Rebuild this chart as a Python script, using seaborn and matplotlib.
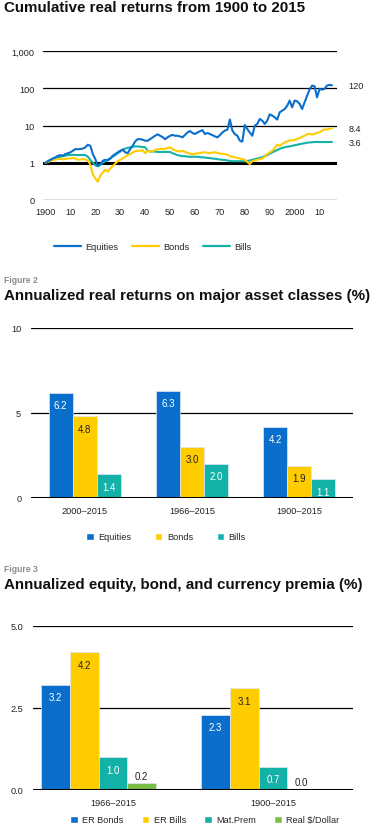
import matplotlib
matplotlib.use("Agg")
import matplotlib.pyplot as plt
from matplotlib.lines import Line2D
from matplotlib.patches import Patch
from matplotlib.ticker import NullLocator
import pandas as pd
import seaborn as sns

# ---- data -------------------------------------------------------------
years = list(range(1900, 2016))

equities = [
    1.0, 1.1, 1.2, 1.3, 1.4, 1.54, 1.6, 1.55, 1.71, 1.8,
    1.9, 2.1, 2.33, 2.3, 2.35, 2.4, 2.6, 3.05, 2.86, 1.71,
    1.25, 0.83, 0.92, 1.13, 1.2, 1.15, 1.31, 1.54, 1.71, 1.9,
    2.1, 2.24, 1.9, 1.82, 2.33, 2.86, 3.75, 4.3, 4.3, 4.16,
    3.9, 3.9, 4.3, 4.8, 5.3, 5.8, 5.3, 4.9, 4.3, 4.8,
    5.3, 5.6, 5.3, 5.3, 5.1, 4.8, 5.6, 6.5, 7.1, 6.3,
    5.9, 6.5, 7.0, 7.5, 5.9, 6.3, 5.9, 5.5, 5.1, 4.8,
    5.5, 6.5, 7.3, 7.7, 14.5, 7.3, 5.9, 5.3, 3.9, 3.7,
    10.3, 8.0, 6.5, 5.3, 9.9, 11.0, 15.0, 13.5, 11.0, 13.5,
    20.0, 18.4, 16.6, 14.4, 22.6, 25.0, 27.7, 34.0, 46.6, 30.8,
    46.6, 44.6, 38.0, 27.7, 42.0, 63.0, 92.0, 118.0, 113.0, 57.0,
    96.0, 92.0, 96.0, 118.0, 123.0, 120.0,
]

bonds = [
    1.0, 1.05, 1.12, 1.18, 1.22, 1.25, 1.28, 1.24, 1.27, 1.3,
    1.3, 1.35, 1.3, 1.2, 1.22, 1.25, 1.22, 1.15, 0.9, 0.48,
    0.38, 0.31, 0.45, 0.55, 0.65, 0.58, 0.7, 0.82, 0.95, 1.1,
    1.2, 1.3, 1.45, 1.6, 1.7, 1.9, 2.05, 2.1, 2.1, 2.15,
    1.8, 2.1, 2.0, 2.05, 2.2, 2.3, 2.35, 2.35, 2.35, 2.5,
    2.6, 2.3, 2.15, 2.05, 2.0, 2.1, 1.95, 1.85, 1.75, 1.7,
    1.75, 1.8, 1.8, 1.9, 1.9, 1.85, 1.8, 1.9, 1.9, 1.85,
    1.75, 1.75, 1.7, 1.65, 1.5, 1.45, 1.4, 1.35, 1.3, 1.25,
    1.2, 1.05, 0.92, 1.1, 1.15, 1.2, 1.25, 1.3, 1.45, 1.7,
    1.9, 2.1, 2.5, 3.1, 2.8, 3.2, 3.5, 3.7, 4.0, 4.0,
    4.1, 4.3, 4.6, 5.0, 5.3, 5.8, 6.0, 5.7, 6.0, 6.3,
    6.6, 7.3, 7.9, 7.7, 8.2, 8.4,
]

bills = [
    1.0, 1.1, 1.2, 1.28, 1.33, 1.4, 1.45, 1.5, 1.55, 1.6,
    1.62, 1.63, 1.62, 1.6, 1.62, 1.62, 1.6, 1.45, 1.2, 1.0,
    0.85, 0.8, 0.88, 1.0, 1.1, 1.2, 1.3, 1.45, 1.6, 1.8,
    2.0, 2.25, 2.4, 2.5, 2.6, 2.7, 2.75, 2.75, 2.7, 2.65,
    2.6, 2.1, 2.0, 2.0, 2.0, 1.95, 1.95, 1.95, 1.95, 1.95,
    1.95, 1.8, 1.7, 1.6, 1.55, 1.5, 1.5, 1.45, 1.45, 1.45,
    1.45, 1.45, 1.42, 1.4, 1.38, 1.35, 1.33, 1.3, 1.28, 1.25,
    1.22, 1.2, 1.18, 1.15, 1.12, 1.1, 1.1, 1.1, 1.1, 1.1,
    1.1, 1.12, 1.15, 1.2, 1.25, 1.3, 1.35, 1.4, 1.5, 1.6,
    1.75, 1.9, 2.05, 2.2, 2.35, 2.5, 2.6, 2.7, 2.75, 2.85,
    2.95, 3.05, 3.15, 3.25, 3.35, 3.45, 3.5, 3.55, 3.6, 3.6,
    3.6, 3.6, 3.6, 3.6, 3.6, 3.6,
]

end_labels = ["120", "8.4", "3.6"]
cum_ticks = [0.1, 1, 10, 100, 1000]
cum_ticklabels = ["0", "1", "10", "100", "1,000"]
decade_ticks = list(range(1900, 2011, 10))
decade_labels = ["1900", "10", "20", "30", "40", "50", "60", "70", "80", "90", "2000", "10"]

fig2_periods = ["2000\u20132015", "1966\u20132015", "1900\u20132015"]
fig2_equities = [6.2, 6.3, 4.2]
fig2_bonds = [4.8, 3.0, 1.9]
fig2_bills = [1.4, 2.0, 1.1]

fig3_periods = ["1966\u20132015", "1900\u20132015"]
fig3_er_bonds = [3.2, 2.3]
fig3_er_bills = [4.2, 3.1]
fig3_maturity = [1.0, 0.7]
fig3_real_fx = [0.2, 0.0]
fig3_series = ["ER Bonds", "ER Bills", "Mat.Prem", "Real $/Dollar"]

BLUE = "#0A6FCC"
YELLOW = "#FFCC00"
TEAL = "#14B1A8"
GREEN = "#7BBE45"

# ---- style ------------------------------------------------------------
sns.set_theme(style="white")
plt.rcParams["font.family"] = ["Liberation Sans", "DejaVu Sans"]
plt.rcParams["axes.linewidth"] = 0

W, H = 374, 828
fig = plt.figure(figsize=(W / 100, H / 100), dpi=100)


def px_axes(left, top, right, bottom):
    return fig.add_axes([left / W, 1 - bottom / H, (right - left) / W, (bottom - top) / H])


def fig_text(x, y, s, **kw):
    fig.text(x / W, 1 - y / H, s, **kw)


TITLE = dict(fontsize=10.9, fontweight="bold", color="#111111", va="center")
FIGLBL = dict(fontsize=6.2, fontweight="bold", color="#8a8a8a", va="center")
TICK = 6.6

# ---- figure 1: cumulative returns --------------------------------------
fig_text(4, 8, "Cumulative real returns from 1900 to 2015", **TITLE)

ax1 = px_axes(43, 52, 337, 201)
cum = pd.DataFrame({
    "year": years * 3,
    "value": equities + bonds + bills,
    "series": ["Equities"] * len(years) + ["Bonds"] * len(years) + ["Bills"] * len(years),
})
for y in [0.1, 10, 100, 1000]:
    ax1.axhline(y, color="black", lw=0.9, zorder=0)
ax1.axhline(1, color="black", lw=2.2, zorder=0)
sns.lineplot(data=cum, x="year", y="value", hue="series", estimator=None,
             palette={"Equities": BLUE, "Bonds": YELLOW, "Bills": TEAL},
             hue_order=["Bills", "Bonds", "Equities"], linewidth=1.5,
             legend=False, ax=ax1)
ax1.set_yscale("log")
ax1.set_ylim(0.1, 1000)
ax1.set_xlim(1899, 2017)
ax1.set_yticks(cum_ticks)
ax1.set_yticklabels(cum_ticklabels)
ax1.yaxis.set_minor_locator(NullLocator())
ax1.set_xticks(decade_ticks)
ax1.set_xticklabels(decade_labels)
ax1.tick_params(length=0, labelsize=TICK, colors="#222222")
ax1.tick_params(axis="y", pad=6)
ax1.tick_params(axis="x", pad=5)
ax1.set_xlabel("")
ax1.set_ylabel("")
for lbl, series in zip(end_labels, [equities, bonds, bills]):
    ax1.text(2021.5, series[-1], lbl, fontsize=TICK, color="#222222",
             va="center", ha="left", clip_on=False)

fig.legend(
    handles=[Line2D([], [], color=c, lw=1.6) for c in (BLUE, YELLOW, TEAL)],
    labels=["Equities", "Bonds", "Bills"],
    loc="center", bbox_to_anchor=(153 / W, 1 - 248 / H), ncol=3, frameon=False,
    fontsize=TICK, handlelength=2.9, handletextpad=0.5, columnspacing=1.5,
)


# ---- bar panels ---------------------------------------------------------
def bar_panel(ax, df, order, hue_order, palette, width, ymax, ticks, ticklabels, label_styles):
    for t in ticks[1:]:
        ax.axhline(t, color="black", lw=0.9, zorder=0)
    sns.barplot(data=df, x="period", y="value", hue="series", order=order,
                hue_order=hue_order, palette=palette, width=width, dodge=True,
                saturation=1, edgecolor="#dfe8f0", linewidth=0.5, legend=False,
                ax=ax, errorbar=None)
    ax.axhline(0, color="black", lw=2.2, zorder=5)
    ax.set_ylim(0, ymax)
    ax.set_yticks(ticks)
    ax.set_yticklabels(ticklabels)
    ax.tick_params(length=0, labelsize=TICK, colors="#222222")
    ax.tick_params(axis="y", pad=7)
    ax.tick_params(axis="x", pad=6)
    ax.set_xlabel("")
    ax.set_ylabel("")
    for cont, (color, pad) in zip(ax.containers, label_styles):
        ax.bar_label(cont, fmt="%.1f", padding=pad, color=color, fontsize=7)


fig_text(4, 281, "Figure 2", **FIGLBL)
fig_text(4, 296, "Annualized real returns on major asset classes (%)", **TITLE)
ax2 = px_axes(31, 329, 353, 499)
fig2 = pd.DataFrame({
    "period": fig2_periods * 3,
    "value": fig2_equities + fig2_bonds + fig2_bills,
    "series": ["Equities"] * 3 + ["Bonds"] * 3 + ["Bills"] * 3,
})
bar_panel(ax2, fig2, fig2_periods, ["Equities", "Bonds", "Bills"],
          {"Equities": BLUE, "Bonds": YELLOW, "Bills": TEAL}, 0.67, 10,
          [0, 5, 10], ["0", "5", "10"],
          [("white", -12.5), ("#222222", -12.5), ("white", -12.5)])
fig.legend(
    handles=[Patch(facecolor=c) for c in (BLUE, YELLOW, TEAL)],
    labels=["Equities", "Bonds", "Bills"],
    loc="center", bbox_to_anchor=(166 / W, 1 - 538 / H), ncol=3, frameon=False,
    fontsize=TICK, handlelength=0.8, handleheight=0.8, handletextpad=0.5,
    columnspacing=2.6,
)

fig_text(4, 570, "Figure 3", **FIGLBL)
fig_text(4, 585, "Annualized equity, bond, and currency premia (%)", **TITLE)
ax3 = px_axes(33, 627, 353, 791)
fig3 = pd.DataFrame({
    "period": fig3_periods * 4,
    "value": fig3_er_bonds + fig3_er_bills + fig3_maturity + fig3_real_fx,
    "series": sum([[s] * 2 for s in fig3_series], []),
})
bar_panel(ax3, fig3, fig3_periods, fig3_series + ["spare"],
          {"ER Bonds": BLUE, "ER Bills": YELLOW, "Mat.Prem": TEAL,
           "Real $/Dollar": GREEN, "spare": "white"}, 0.9, 5,
          [0, 2.5, 5], ["0.0", "2.5", "5.0"],
          [("white", -12.5), ("#222222", -12.5), ("white", -12.5), ("#222222", 2)])
fig.legend(
    handles=[Patch(facecolor=c) for c in (BLUE, YELLOW, TEAL, GREEN)],
    labels=fig3_series,
    loc="center", bbox_to_anchor=(205 / W, 1 - 821 / H), ncol=4, frameon=False,
    fontsize=TICK, handlelength=0.8, handleheight=0.8, handletextpad=0.5,
    columnspacing=2.0,
)

fig.savefig("out.png", dpi=100)
